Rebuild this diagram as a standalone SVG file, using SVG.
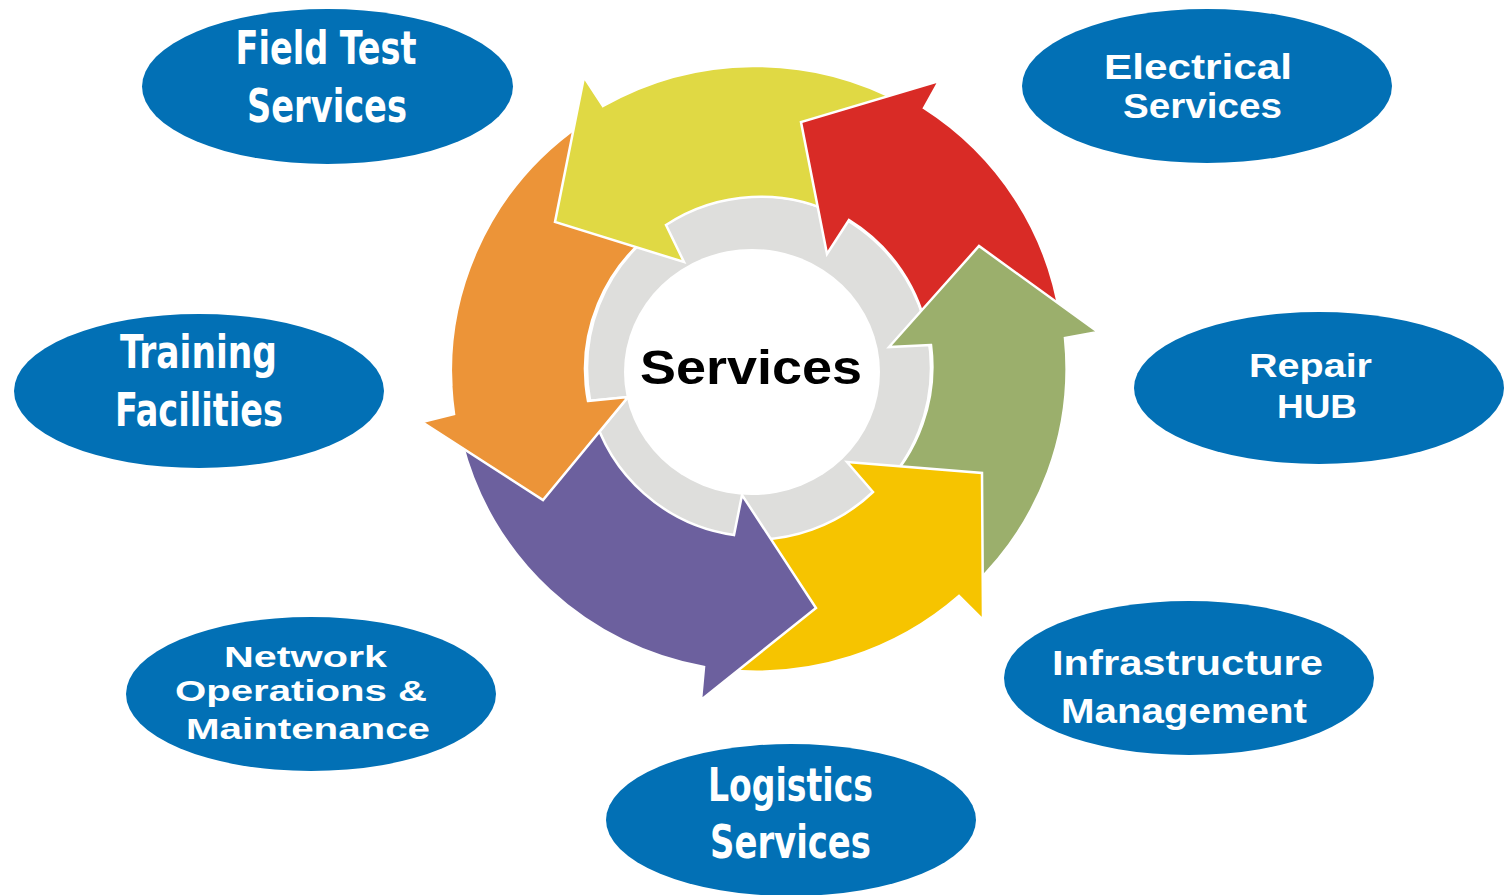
<svg xmlns="http://www.w3.org/2000/svg" width="1512" height="895" viewBox="0 0 1512 895">
  <style>
    .oval { fill: #0270B5; }
    .cond { font-family: "DejaVu Sans Condensed", "Roboto", "Liberation Sans", sans-serif; font-weight: bold; fill: #FFFFFF; text-anchor: middle; }
    .wide { font-family: "Liberation Sans", Arial, sans-serif; font-weight: bold; fill: #FFFFFF; text-anchor: middle; }
    .arrow { stroke: #FFFFFF; stroke-width: 2.5; stroke-linejoin: miter; }
    .center-text { font-family: "Liberation Sans", Arial, sans-serif; font-weight: bold; fill: #000000; text-anchor: middle; }
  </style>
  <defs>
    <path id="orangeShape" d="M 588,401 L 628,397 L 543,500 L 422,422 L 454,414 A 306 302 0 0 1 581.3,124.1 L 659.1,228 A 172 172 0 0 0 588,401 Z"/>
    <clipPath id="orangeHeadClip">
      <rect x="400" y="386" width="260" height="140"/>
    </clipPath>
  </defs>
  <rect x="0" y="0" width="1512" height="895" fill="#FFFFFF"/>

  <g id="cycle">
    <circle cx="759" cy="368" r="172" fill="#DEDEDC" stroke="#FFFFFF" stroke-width="2.5"/>
    <ellipse cx="752" cy="372" rx="128" ry="123" fill="#FFFFFF"/>
    <g id="cycle-arrows">
      <use href="#orangeShape" class="arrow" fill="#EC9438"/>
      <path id="arrow-yellow" class="arrow" fill="#E0D944" d="M 666,225 L 684,262 L 555,222 L 584,77 L 603,106 A 306 302 0 0 1 902.7,103.3 L 839.7,216.1 A 172 172 0 0 0 666,225 Z"/>
      <path id="arrow-red" class="arrow" fill="#D92B26" d="M 849,220 L 827,254 L 801,122 L 939,81 L 924,108 A 306 302 0 0 1 1060.3,317.6 L 928.4,338.1 A 172 172 0 0 0 849,220 Z"/>
      <path id="arrow-green" class="arrow" fill="#9BAF6C" d="M 931,345 L 889,347 L 979,246 L 1098,332 L 1065,338 A 306 302 0 0 1 973.5,585.4 L 879.6,490.7 A 172 172 0 0 0 931,345 Z"/>
      <path id="arrow-gold" class="arrow" fill="#F6C400" d="M 873,492 L 847,462 L 982,473 L 983,620 L 959,596 A 306 302 0 0 1 727,670.3 L 741,539.1 A 172 172 0 0 0 873,492 Z"/>
      <path id="arrow-purple" class="arrow" fill="#6C609E" d="M 734,535 L 742,495 L 816,608 L 701,700 L 704,667 A 306 302 0 0 1 462.1,443.1 L 592.1,409.6 A 172 172 0 0 0 734,535 Z"/>
      <use id="arrow-orange-head" href="#orangeShape" class="arrow" fill="#EC9438" clip-path="url(#orangeHeadClip)"/>
    </g>
    <text class="center-text" x="751" y="384" font-size="49" textLength="222" lengthAdjust="spacingAndGlyphs">Services</text>
  </g>

  <g id="node-field-test">
    <ellipse class="oval" cx="327.5" cy="86.5" rx="185.5" ry="77.5"/>
    <text class="cond" x="326" y="64" font-size="47" textLength="181" lengthAdjust="spacingAndGlyphs">Field Test</text>
    <text class="cond" x="327" y="122" font-size="47" textLength="160" lengthAdjust="spacingAndGlyphs">Services</text>
  </g>

  <g id="node-electrical">
    <ellipse class="oval" cx="1207" cy="86" rx="185" ry="77"/>
    <text class="wide" x="1198" y="79" font-size="35" textLength="188" lengthAdjust="spacingAndGlyphs">Electrical</text>
    <text class="wide" x="1202.5" y="118" font-size="35" textLength="159" lengthAdjust="spacingAndGlyphs">Services</text>
  </g>

  <g id="node-training">
    <ellipse class="oval" cx="199" cy="391" rx="185" ry="77"/>
    <text class="cond" x="198.5" y="368" font-size="47" textLength="157" lengthAdjust="spacingAndGlyphs">Training</text>
    <text class="cond" x="199" y="426" font-size="47" textLength="168" lengthAdjust="spacingAndGlyphs">Facilities</text>
  </g>

  <g id="node-repair">
    <ellipse class="oval" cx="1319" cy="388" rx="185" ry="76"/>
    <text class="wide" x="1310.5" y="377" font-size="33.5" textLength="123" lengthAdjust="spacingAndGlyphs">Repair</text>
    <text class="wide" x="1317" y="418" font-size="33.5" textLength="80" lengthAdjust="spacingAndGlyphs">HUB</text>
  </g>

  <g id="node-network">
    <ellipse class="oval" cx="311" cy="694" rx="185" ry="77"/>
    <text class="wide" x="305.5" y="667" font-size="30" textLength="163" lengthAdjust="spacingAndGlyphs">Network</text>
    <text class="wide" x="301" y="701" font-size="30" textLength="252" lengthAdjust="spacingAndGlyphs">Operations &amp;</text>
    <text class="wide" x="308" y="739" font-size="30" textLength="244" lengthAdjust="spacingAndGlyphs">Maintenance</text>
  </g>

  <g id="node-infrastructure">
    <ellipse class="oval" cx="1189" cy="678" rx="185" ry="77"/>
    <text class="wide" x="1187.5" y="675" font-size="35" textLength="271" lengthAdjust="spacingAndGlyphs">Infrastructure</text>
    <text class="wide" x="1184" y="723" font-size="35" textLength="246" lengthAdjust="spacingAndGlyphs">Management</text>
  </g>

  <g id="node-logistics">
    <ellipse class="oval" cx="791" cy="820" rx="185" ry="76"/>
    <text class="cond" x="790.5" y="801" font-size="47" textLength="165" lengthAdjust="spacingAndGlyphs">Logistics</text>
    <text class="cond" x="790.5" y="858" font-size="47" textLength="161" lengthAdjust="spacingAndGlyphs">Services</text>
  </g>
</svg>
